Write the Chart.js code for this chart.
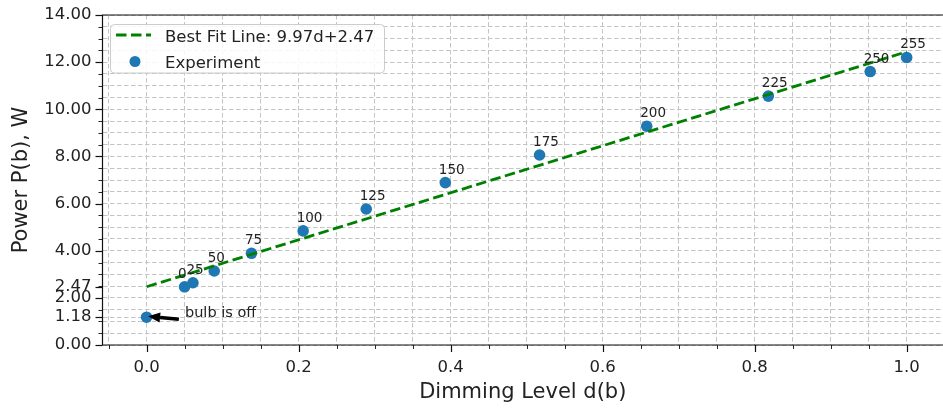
<!DOCTYPE html>
<html>
<head>
<meta charset="utf-8">
<script src="https://cdn.jsdelivr.net/npm/chart.js@4/dist/chart.umd.min.js"></script>
<style>
  html, body { margin: 0; padding: 0; background: #ffffff; overflow: hidden; }
  canvas { display: block; }
</style>
</head>
<body>
<canvas id="c" width="943" height="408"></canvas>
<script>
// ---- data ----
const brightness = [0, 25, 50, 75, 100, 125, 150, 175, 200, 225, 250, 255];
const dimming    = [0.050, 0.061, 0.089, 0.138, 0.206, 0.289, 0.393, 0.517, 0.658, 0.818, 0.952, 1.000];
const power      = [2.47, 2.64, 3.14, 3.89, 4.84, 5.77, 6.89, 8.06, 9.28, 10.56, 11.60, 12.20];
const offDimming = [0.0];
const offPower   = [1.18];
const fitDimming = [0.0, 1.0];
const fitPower   = [2.47, 12.44];
const fitLabel   = 'Best Fit Line: 9.97d+2.47';
const expLabel   = 'Experiment';
const offNote    = 'bulb is off';
const noteTextAt = [0.0505, 1.18];
const arrowTail  = [0.0425, 1.09];
const arrowHead  = [0.002, 1.22];
const xMajorTicks = [0.0, 0.2, 0.4, 0.6, 0.8, 1.0];
const xMinorStep  = 0.05;
const yMajorTicks = [0, 1.18, 2, 2.47, 4, 6, 8, 10, 12, 14];
const yMinorStep  = 0.5;
const xTitle = 'Dimming Level d(b)';
const yTitle = 'Power P(b), W';

const BLUE = '#1f77b4', GREEN = '#008000', TXT = '#222222', GRID = '#c4c4c4';
const FONT = '"DejaVu Sans", sans-serif';
Chart.defaults.font.family = FONT;

const X_MIN = -0.058, X_MAX = 1.0478;
const near = (a, b) => Math.abs(a - b) < 1e-6;
const xTickValues = [];
for (let k = -1; k <= 20; k++) xTickValues.push(Math.round(k * xMinorStep * 1000) / 1000);
const yTickValues = [];
for (let k = 0; k <= 28; k++) yTickValues.push(k * yMinorStep);
yMajorTicks.forEach(v => { if (!yTickValues.some(t => near(t, v))) yTickValues.push(v); });
yTickValues.sort((a, b) => a - b);
const isXMajor = v => xMajorTicks.some(t => near(t, v));
const isYMajor = v => yMajorTicks.some(t => near(t, v));

const overlay = {
  id: 'overlay',
  afterDatasetsDraw(chart) {
    const ctx = chart.ctx, xs = chart.scales.x, ys = chart.scales.y;
    ctx.save();
    // point labels
    ctx.fillStyle = TXT;
    ctx.font = '13.5px ' + FONT;
    ctx.textAlign = 'left';
    ctx.textBaseline = 'alphabetic';
    brightness.forEach((b, i) => {
      const px = xs.getPixelForValue(dimming[i]);
      const py = ys.getPixelForValue(power[i]);
      ctx.fillText(String(b), px - 6.5, py - 9);
    });
    // annotation
    ctx.font = '14.5px ' + FONT;
    ctx.fillText(offNote, xs.getPixelForValue(noteTextAt[0]), ys.getPixelForValue(noteTextAt[1]));
    const tx = xs.getPixelForValue(arrowTail[0]), ty = ys.getPixelForValue(arrowTail[1]);
    const hx = xs.getPixelForValue(arrowHead[0]), hy = ys.getPixelForValue(arrowHead[1]);
    const ang = Math.atan2(hy - ty, hx - tx);
    const headLen = 12, headHalf = 5;
    const bx = hx - headLen * Math.cos(ang), by = hy - headLen * Math.sin(ang);
    ctx.strokeStyle = '#000'; ctx.fillStyle = '#000';
    ctx.lineWidth = 3.5; ctx.lineCap = 'butt';
    ctx.beginPath(); ctx.moveTo(tx, ty); ctx.lineTo(bx, by); ctx.stroke();
    ctx.beginPath();
    ctx.moveTo(hx, hy);
    ctx.lineTo(bx + headHalf * Math.sin(ang), by - headHalf * Math.cos(ang));
    ctx.lineTo(bx - headHalf * Math.sin(ang), by + headHalf * Math.cos(ang));
    ctx.closePath(); ctx.fill();
    ctx.restore();
  },
  afterDraw(chart) {
    const ctx = chart.ctx, a = chart.chartArea, xs = chart.scales.x, ys = chart.scales.y;
    ctx.save();
    // frame: left, top, bottom (right spine lies just outside the picture)
    ctx.strokeStyle = '#111'; ctx.lineWidth = 1.2; ctx.setLineDash([]);
    ctx.beginPath();
    ctx.moveTo(chart.width + 5, a.top); ctx.lineTo(a.left, a.top);
    ctx.lineTo(a.left, a.bottom); ctx.lineTo(chart.width + 5, a.bottom);
    ctx.stroke();
    // tick marks
    xTickValues.forEach(v => {
      const px = Math.round(xs.getPixelForValue(v)) + 0.5;
      const maj = isXMajor(v);
      ctx.lineWidth = maj ? 1.2 : 0.9;
      ctx.beginPath(); ctx.moveTo(px, a.bottom); ctx.lineTo(px, a.bottom + (maj ? 7 : 4)); ctx.stroke();
    });
    yTickValues.forEach(v => {
      const py = Math.round(ys.getPixelForValue(v)) + 0.5;
      const maj = isYMajor(v);
      ctx.lineWidth = maj ? 1.2 : 0.9;
      ctx.beginPath(); ctx.moveTo(a.left, py); ctx.lineTo(a.left - (maj ? 7 : 4), py); ctx.stroke();
    });
    // legend
    ctx.beginPath();
    ctx.roundRect(110.5, 24.5, 274, 48.5, 4);
    ctx.fillStyle = 'rgba(255,255,255,0.85)'; ctx.fill();
    ctx.strokeStyle = '#cccccc'; ctx.lineWidth = 1; ctx.stroke();
    ctx.strokeStyle = GREEN; ctx.lineWidth = 2.8; ctx.setLineDash([10.5, 4.5]);
    ctx.beginPath(); ctx.moveTo(116, 35); ctx.lineTo(151, 35); ctx.stroke();
    ctx.setLineDash([]);
    ctx.fillStyle = BLUE;
    ctx.beginPath(); ctx.arc(135, 61.5, 5.5, 0, Math.PI * 2); ctx.fill();
    ctx.fillStyle = TXT; ctx.font = '16.5px ' + FONT;
    ctx.textAlign = 'left'; ctx.textBaseline = 'alphabetic';
    ctx.fillText(chart.data.datasets[0].label, 165, 41.5);
    ctx.fillText(chart.data.datasets[1].label, 165, 67.7);
    ctx.restore();
  }
};

new Chart(document.getElementById('c').getContext('2d'), {
  type: 'scatter',
  data: {
    datasets: [
      {
        label: fitLabel,
        data: fitDimming.map((d, i) => ({ x: d, y: fitPower[i] })),
        showLine: true, borderColor: GREEN, borderWidth: 2.8, borderDash: [10.5, 4.5],
        pointRadius: 0, fill: false, backgroundColor: GREEN
      },
      {
        label: expLabel,
        data: dimming.map((d, i) => ({ x: d, y: power[i] })),
        backgroundColor: BLUE, borderWidth: 0, pointRadius: 5.8, pointHoverRadius: 5.8
      },
      {
        label: offNote,
        data: offDimming.map((d, i) => ({ x: d, y: offPower[i] })),
        backgroundColor: BLUE, borderWidth: 0, pointRadius: 5.8, pointHoverRadius: 5.8
      }
    ]
  },
  options: {
    responsive: false, animation: false, devicePixelRatio: 1, events: [],
    layout: { autoPadding: false, padding: { top: 15, left: 0, right: 0, bottom: 0 } },
    plugins: { legend: { display: false }, tooltip: { enabled: false } },
    scales: {
      x: {
        type: 'linear', min: X_MIN, max: X_MAX,
        afterBuildTicks: s => { s.ticks = xTickValues.map(v => ({ value: v })); },
        afterFit: s => { s.height = 63; },
        ticks: {
          autoSkip: false, maxRotation: 0, minRotation: 0, padding: 6, color: TXT,
          font: { size: 16.5 },
          callback: v => isXMajor(v) ? Number(v).toFixed(1) : ''
        },
        grid: { color: GRID, lineWidth: 1, tickLength: 7, tickColor: 'rgba(0,0,0,0)' },
        border: { display: false, dash: [4.5, 2.5] },
        title: { display: true, text: xTitle, color: TXT, font: { size: 21 }, padding: { top: 0, bottom: 2.4 } }
      },
      y: {
        type: 'linear', min: 0, max: 14,
        afterBuildTicks: s => { s.ticks = yTickValues.map(v => ({ value: v })); },
        afterFit: s => { s.width = 102.5; },
        ticks: {
          autoSkip: false, padding: 4, color: TXT, font: { size: 16.5 },
          callback: v => isYMajor(v) ? Number(v).toFixed(2) : ''
        },
        grid: { color: GRID, lineWidth: 1, tickLength: 7, tickColor: 'rgba(0,0,0,0)' },
        border: { display: false, dash: [4.5, 2.5] },
        title: { display: true, text: yTitle, color: TXT, font: { size: 21 }, padding: { top: 9.2, bottom: 0 } }
      }
    }
  },
  plugins: [overlay]
});
</script>
</body>
</html>
